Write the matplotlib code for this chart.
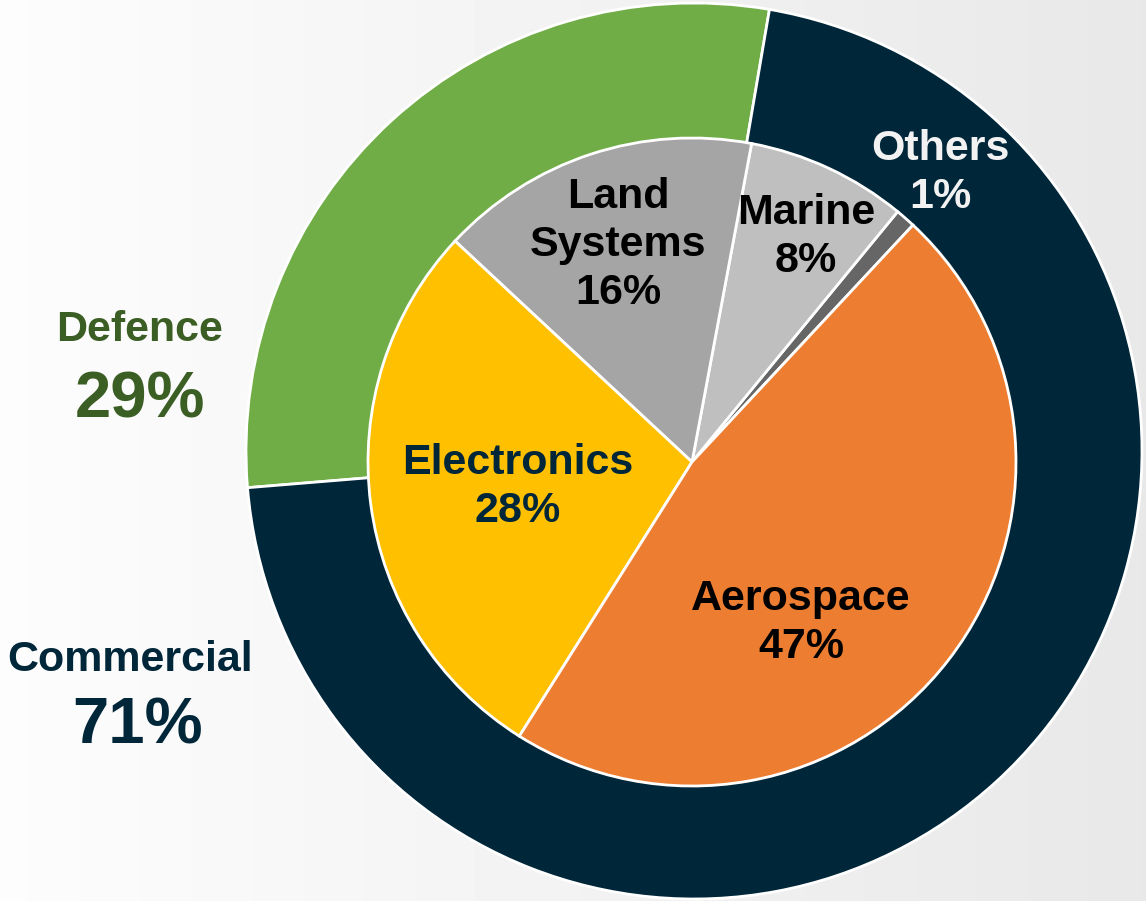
import matplotlib
matplotlib.use("Agg")
import matplotlib.pyplot as plt
import numpy as np

plt.rcParams["font.family"] = ["Liberation Sans", "DejaVu Sans"]

# ── Data ─────────────────────────────────────────────────────────────────────
segments = ["Defence", "Commercial"]
segment_pct = [29, 71]
segment_colors = ["#70AD47", "#002639"]

divisions = ["Others", "Marine", "Land\nSystems", "Electronics", "Aerospace"]
division_pct = [1, 8, 16, 28, 47]
division_colors = ["#666666", "#BFBFBF", "#A5A5A5", "#FFC000", "#ED7D31"]
division_text = ["#F2F2F2", "#000000", "#000000", "#002639", "#000000"]

# ── Figure (axes in pixel units, y up) ──────────────────────────────────────
W, H = 1146, 901
fig = plt.figure(figsize=(W / 100, H / 100), dpi=100)
ax = fig.add_axes([0, 0, 1, 1])

# soft slide background
grad = np.linspace(0.99, 0.91, 256)[None, :]
ax.imshow(grad, cmap="gray", vmin=0, vmax=1, extent=[0, W, 0, H],
          aspect="auto", zorder=0)

edge = dict(edgecolor="white", linewidth=2)

# outer ring: Defence / Commercial
ax.pie(segment_pct, colors=segment_colors, startangle=80.3,
       counterclock=True, center=(694, 450), radius=448,
       wedgeprops=edge, frame=True)

# inner pie: divisions
ax.pie(division_pct, colors=division_colors, startangle=47,
       counterclock=True, center=(692, 439), radius=324,
       wedgeprops=edge, frame=True)

ax.set_xlim(0, W)
ax.set_ylim(0, H)
ax.set_aspect("equal")
ax.axis("off")

# ── Labels ───────────────────────────────────────────────────────────────────
inner_pos = [(940, 901 - 173), (806, 901 - 237), (618, 901 - 245),
             (518, 901 - 487), (801, 901 - 623)]
for name, pct, col, (x, y) in zip(divisions, division_pct, division_text, inner_pos):
    ax.text(x, y, f"{name}\n{pct}%", ha="center", va="center",
            fontsize=31, fontweight="bold", color=col, linespacing=1.27,
            zorder=5)

seg_text = {"Defence": "#3B5E24", "Commercial": "#002639"}
seg_pos = {"Defence": (140, 901 - 330), "Commercial": (130, 901 - 660)}
seg_pct_pos = {"Defence": (140, 901 - 400), "Commercial": (138, 901 - 727)}
for name, pct in zip(segments, segment_pct):
    x, y = seg_pos[name]
    ax.text(x, y, name, ha="center", va="center", fontsize=31,
            fontweight="bold", color=seg_text[name])
    x, y = seg_pct_pos[name]
    ax.text(x, y, f"{pct}%", ha="center", va="center", fontsize=47,
            fontweight="bold", color=seg_text[name])

plt.savefig("out.png", dpi=100)
plt.close()
